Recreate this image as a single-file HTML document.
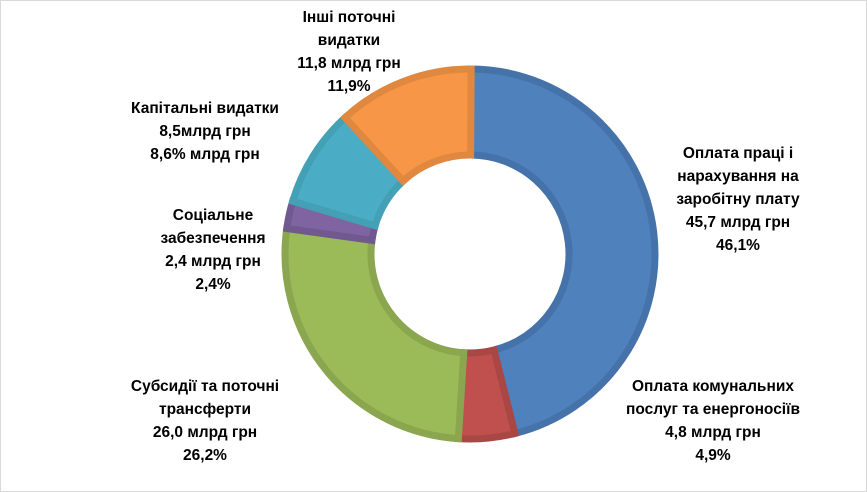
<!DOCTYPE html>
<html><head><meta charset="utf-8"><style>
html,body{margin:0;padding:0;background:#fff}
#c{position:relative;width:865px;height:490px;border:1px solid #d9d9d9;overflow:hidden;font-family:"Liberation Sans",sans-serif}
.l{position:absolute;text-align:center;font-weight:bold;font-size:15.5px;line-height:23px;color:#000;white-space:nowrap;transform:translateX(-50%)}
svg{position:absolute;left:0;top:0}
</style></head><body><div id="c">
<svg id="s" width="865" height="490"></svg>
<div class="l" style="left:737px;top:141px">Оплата праці і<br>нарахування на<br>заробітну плату<br>45,7 млрд грн<br>46,1%</div>
<div class="l" style="left:712px;top:374px">Оплата комунальних<br>послуг та енергоносіїв<br>4,8 млрд грн<br>4,9%</div>
<div class="l" style="left:204px;top:374px">Субсидії та поточні<br>трансферти<br>26,0 млрд грн<br>26,2%</div>
<div class="l" style="left:212px;top:203px">Соціальне<br>забезпечення<br>2,4 млрд грн<br>2,4%</div>
<div class="l" style="left:204px;top:96px">Капітальні видатки<br>8,5млрд грн<br>8,6% млрд грн</div>
<div class="l" style="left:348px;top:5px">Інші поточні<br>видатки<br>11,8 млрд грн<br>11,9%</div>
</div>
<script>
var d=[[46.1,"#4F81BD","#4672AA"],[4.9,"#C0504D","#A94744"],[26.2,"#9BBB59","#8AA64F"],[2.4,"#8064A2","#71588F"],[8.6,"#4BACC6","#43A0B5"],[11.9,"#F79646","#E0883F"]];
var cx=469,cy=253,R=185,r=99,a=0,h="";
function p(rad,ang){return (cx+rad*Math.sin(ang)).toFixed(2)+","+(cy-rad*Math.cos(ang)).toFixed(2);}
d.forEach(function(e){var a0=a*Math.PI/50,a1=(a+e[0])*Math.PI/50;a+=e[0];var lg=(a1-a0)>Math.PI?1:0;
h+='<path d="M'+p(R,a0)+' A'+R+','+R+' 0 '+lg+' 1 '+p(R,a1)+' L'+p(r,a1)+' A'+r+','+r+' 0 '+lg+' 0 '+p(r,a0)+' Z" fill="'+e[1]+'" stroke="'+e[2]+'" stroke-width="7" stroke-linejoin="miter"/>';});
document.getElementById("s").innerHTML=h;
</script>
</body></html>
